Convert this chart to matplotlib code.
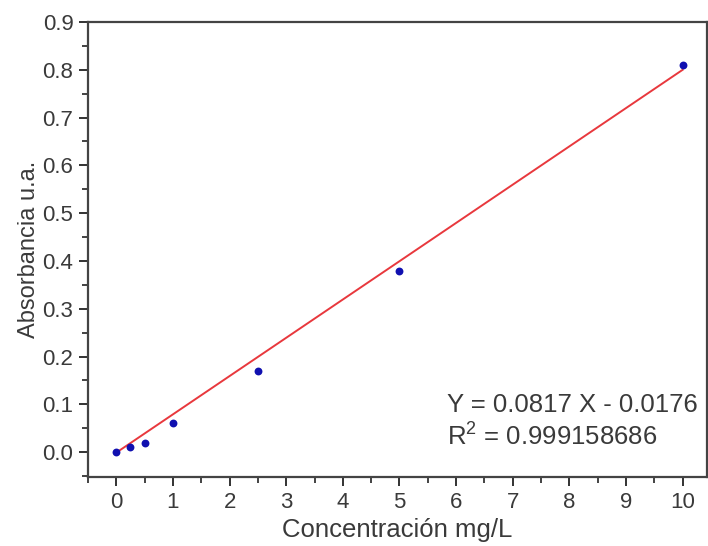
import matplotlib
matplotlib.use("Agg")
import matplotlib.pyplot as plt
import numpy as np
from matplotlib.ticker import MultipleLocator, FormatStrFormatter

plt.rcParams["font.family"] = ["Liberation Sans", "DejaVu Sans"]
plt.rcParams["mathtext.fontset"] = "custom"
plt.rcParams["mathtext.rm"] = "Liberation Sans"

# calibration points
conc = [0, 0.25, 0.5, 1, 2.5, 5, 10]
absorb = [0.0, 0.01, 0.02, 0.06, 0.17, 0.38, 0.81]

# fitted line as drawn (visual), and the label printed on the chart
fit_slope = 0.0801
fit_intercept = -0.001
fit_range = [0, 10]
eq_text = "Y = 0.0817 X - 0.0176"
r2_text = "R$^2$ = 0.999158686"

fig = plt.figure(figsize=(7.08, 5.46), dpi=100)
ax = fig.add_axes([88 / 708, 1 - 477 / 546, 619 / 708, 455 / 546])

xf = np.array(fit_range, dtype=float)
ax.plot(xf, fit_slope * xf + fit_intercept, color="#e8383d", lw=1.4, zorder=2)
ax.scatter(conc, absorb, s=32, color="#1010b0", zorder=3, linewidths=0)

ax.set_xlim(-0.5, 10.43)
ax.set_ylim(-0.052, 0.9)
ax.xaxis.set_major_locator(MultipleLocator(1))
ax.xaxis.set_minor_locator(MultipleLocator(0.5))
ax.yaxis.set_major_locator(MultipleLocator(0.1))
ax.yaxis.set_minor_locator(MultipleLocator(0.05))
ax.yaxis.set_major_formatter(FormatStrFormatter("%.1f"))
ax.tick_params(which="both", direction="out", top=False, right=False, colors="#222222")
ax.tick_params(which="major", length=6.5, width=1.3, labelsize=16, labelcolor="#3a3a3a", pad=4)
ax.tick_params(which="minor", length=4, width=1.2)
for sp in ax.spines.values():
    sp.set_linewidth(1.6)
    sp.set_color("#444444")

ax.set_xlabel("Concentración mg/L", fontsize=18.5, color="#3a3a3a", labelpad=4)
ax.set_ylabel("Absorbancia u.a.", fontsize=17, color="#3a3a3a", labelpad=2)

ax.text(0.58, 0.158, eq_text, transform=ax.transAxes, ha="left", va="center", fontsize=18.5, color="#3a3a3a")
ax.text(0.58, 0.09, r2_text, transform=ax.transAxes, ha="left", va="center", fontsize=18.5, color="#3a3a3a")

fig.savefig("out.png", dpi=100)
